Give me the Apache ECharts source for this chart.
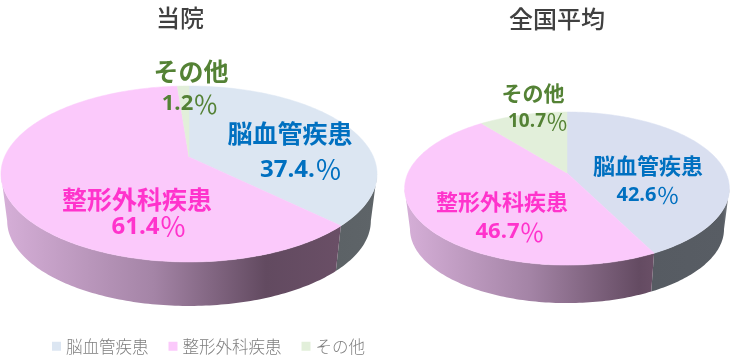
<!DOCTYPE html>
<html>
<head>
<meta charset="utf-8">
<style>
  html, body { margin: 0; padding: 0; background: #fff; }
  #chart { width: 730px; height: 358px; }
</style>
</head>
<body>
<div id="chart"></div>
<script src="https://cdn.jsdelivr.net/npm/echarts@6/dist/echarts.min.js"></script>
<script>
const categories = ['脳血管疾患', '整形外科疾患', 'その他']
const pieTitles = ['当院', '全国平均']
const hospitalValues = [37.4, 61.4, 1.2]
const nationalValues = [42.6, 46.7, 10.7]
const hospitalLabels = ['37.4.', '61.4', '1.2']
const nationalLabels = ['42.6', '46.7', '10.7']

const pieValues = [hospitalValues, nationalValues]
const pieLabels = [hospitalLabels, nationalLabels]

// 透视椭圆的几何参数
const pies = [
  { cx: 189, cy: 157, r: 184.5, h: 84.7, k: 0.193, depth: 44, q: 0.967 },
  { cx: 567, cy: 173, r: 159, h: 73.4, k: 0.203, depth: 38, q: 0.967 }
]
const titlePos = [[180, 18], [557, 19]]

const topColors = [
  ['#dce6f2', '#fbc9fb', '#e2efda'],
  ['#d9dff0', '#fbc9fb', '#e2efda']
]
const labelColors = ['#0070c0', '#ff33cc', '#548235']
const wallStops = [
  [
    [[0, '#8d9295'], [0.08, '#5e6468'], [1, '#5c6266']],
    [[0, '#d6afd8'], [0.45, '#a484a6'], [0.78, '#624a60'], [1, '#6a4f66']],
    [[0, '#5b6265'], [1, '#5b6265']]
  ],
  [
    [[0, '#85898f'], [0.08, '#585d64'], [1, '#565b62']],
    [[0, '#d6afd8'], [0.5, '#a484a6'], [0.94, '#644b62'], [1, '#6a4f66']],
    [[0, '#5b6265'], [1, '#5b6265']]
  ]
]
// 文字手动摆放 [名称x, 名称y, 名称字号, 数值x, 数值y, 数值字号]
const labelLayout = [
  [[290, 133, 25, 301, 170, 26], [137, 199, 25, 149, 227, 26], [191, 71, 25, 190, 104, 24]],
  [[648, 166, 22, 648, 195, 22], [502, 202, 22, 510, 232, 24], [533, 93, 21, 538, 122, 21]]
]
const jpFont = '"Noto Sans CJK JP", sans-serif'

function project(pie, deg) {
  const t = (deg * Math.PI) / 180
  const u = Math.sin(t)
  const v = Math.cos(t)
  const s = 1 / (1 + pie.k * v)
  return [pie.cx + pie.r * u * s, pie.cy - pie.h * v * s]
}

function lowerPoint(pie, p) {
  const bottom = pie.cy + pie.h / (1 - pie.k)
  const base = bottom + pie.depth - (bottom - pie.cy) * pie.q
  return [pie.cx + (p[0] - pie.cx) * pie.q, base + (p[1] - pie.cy) * pie.q]
}

function sampleArc(pie, from, to) {
  const points = []
  for (let d = from; d < to; d += 1) {
    points.push(project(pie, d))
  }
  points.push(project(pie, to))
  return points
}

function renderSlice(params, api) {
  const catIndex = params.seriesIndex
  const pieIndex = params.dataIndex
  const values = pieValues[pieIndex]
  const pie = pies[pieIndex]
  const total = values.reduce((a, b) => a + b, 0)
  let before = 0
  for (let i = 0; i < catIndex; i++) before += values[i]
  const start = (before / total) * 360
  const end = ((before + api.value(0)) / total) * 360
  const children = []

  // 侧面：只画朝前的部分
  const rightDeg = (Math.acos(-pie.k) * 180) / Math.PI
  const leftDeg = 360 - rightDeg
  const wallFrom = Math.max(start, rightDeg)
  const wallTo = Math.min(end, leftDeg)
  if (wallTo > wallFrom) {
    const rim = sampleArc(pie, wallFrom, wallTo)
    const lower = rim.map(p => lowerPoint(pie, p)).reverse()
    const xs = rim.concat(lower).map(p => p[0])
    const minX = Math.min(...xs)
    const maxX = Math.max(...xs)
    const stops = wallStops[pieIndex][catIndex].map(s => ({ offset: s[0], color: s[1] }))
    // 渐变从左到右，脑血管部分反向
    const grad = catIndex === 0
      ? new echarts.graphic.LinearGradient(maxX, 0, minX, 0, stops, true)
      : new echarts.graphic.LinearGradient(minX, 0, maxX, 0, stops, true)
    children.push({
      type: 'polygon',
      z2: 1,
      shape: { points: rim.concat(lower) },
      style: { fill: grad, stroke: null }
    })
  }

  // 顶面
  const fill = topColors[pieIndex][catIndex]
  children.push({
    type: 'polygon',
    z2: 2,
    shape: { points: [[pie.cx, pie.cy]].concat(sampleArc(pie, start, end)) },
    style: { fill: fill, stroke: fill, lineWidth: 0.5 }
  })

  // 标签
  const lay = labelLayout[pieIndex][catIndex]
  const color = labelColors[catIndex]
  children.push({
    type: 'text',
    z2: 5,
    x: lay[0],
    y: lay[1],
    style: {
      text: categories[catIndex],
      fill: color,
      font: 'bold ' + lay[2] + 'px ' + jpFont,
      align: 'center',
      verticalAlign: 'middle'
    }
  })
  children.push({
    type: 'text',
    z2: 5,
    x: lay[3],
    y: lay[4],
    style: {
      text: '{n|' + pieLabels[pieIndex][catIndex] + '}{p|％}',
      align: 'center',
      verticalAlign: 'middle',
      rich: {
        n: { fill: color, fontSize: lay[5] - 2, fontWeight: 'bold', fontFamily: '"Open Sans", sans-serif' },
        p: { fill: color, fontSize: lay[5] + 1, fontWeight: 'normal', fontFamily: jpFont }
      }
    }
  })
  return { type: 'group', children: children }
}

const myChart = echarts.init(document.getElementById('chart'), null, { renderer: 'canvas' })
const option = {
  animation: false,
  title: pieTitles.map((name, i) => ({
    text: name,
    left: titlePos[i][0],
    top: titlePos[i][1] - 12,
    padding: 0,
    textAlign: 'center',
    textStyle: { color: '#404040', fontSize: 24, fontWeight: 500, fontFamily: jpFont }
  })),
  legend: {
    left: 47,
    top: 333,
    itemWidth: 9,
    itemHeight: 9,
    itemGap: 20,
    icon: 'rect',
    selectedMode: false,
    data: categories,
    textStyle: { color: '#7f7f7f', fontSize: 16.5, fontFamily: jpFont, fontWeight: 300 }
  },
  series: categories.map((name, c) => ({
    type: 'custom',
    name: name,
    coordinateSystem: 'none',
    silent: true,
    itemStyle: { color: topColors[0][c] },
    renderItem: renderSlice,
    data: [[hospitalValues[c]], [nationalValues[c]]]
  }))
}
myChart.setOption(option)
</script>
</body>
</html>
